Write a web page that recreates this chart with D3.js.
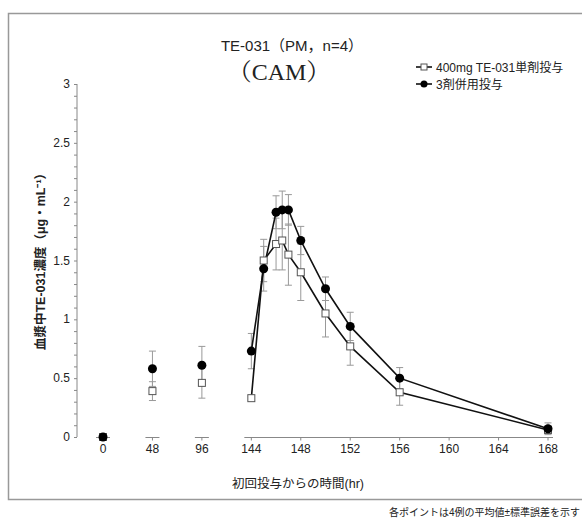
<!DOCTYPE html>
<html>
<head>
<meta charset="utf-8">
<script src="https://cdn.jsdelivr.net/npm/d3@7"></script>
<style>
  body { margin: 0; background: #fff; }
  svg { display: block; }
  text { font-family: "Liberation Sans Narrow", "Liberation Sans", "Noto Sans CJK JP", sans-serif; fill: #222; }
</style>
</head>
<body>
<div id="chart"></div>
<script>
// ─── Data ────────────────────────────────────────────────────
const times      = [0, 48, 96, 144, 145, 146, 146.5, 147, 148, 150, 152, 156, 168];
const singleMean = [0, 0.39, 0.46, 0.33, 1.50, 1.64, 1.67, 1.55, 1.40, 1.05, 0.77, 0.38, 0.06];
const singleSem  = [0, 0.08, 0.13, 0.02, 0.18, 0.22, 0.25, 0.26, 0.24, 0.20, 0.16, 0.11, 0.03];
const comboMean  = [0, 0.58, 0.61, 0.73, 1.43, 1.91, 1.93, 1.93, 1.67, 1.26, 0.94, 0.50, 0.07];
const comboSem   = [0, 0.15, 0.16, 0.15, 0.19, 0.14, 0.16, 0.13, 0.12, 0.10, 0.12, 0.09, 0.05];
const xTicks     = [0, 48, 96, 144, 148, 152, 156, 160, 164, 168];
const yTicks     = [0, 0.5, 1, 1.5, 2, 2.5, 3];
const seriesNames = ["400mg TE-031単剤投与", "3剤併用投与"];

// ─── Setup ───────────────────────────────────────────────────
const W = 582, H = 520;
const svg = d3.select("#chart").append("svg").attr("width", W).attr("height", H);

// outer frame
svg.append("rect")
    .attr("x", 8.5).attr("y", 13.5)
    .attr("width", 590).attr("height", 486)
    .attr("fill", "none").attr("stroke", "#999").attr("stroke-width", 1.5);

// broken time axis: 0/48/96 are spaced like 4-hr steps, then 144→168 continuous
const pos = t => t < 144 ? t / 48 : 3 + (t - 144) / 4;
const xs = d3.scaleLinear().domain([0, 9]).range([103, 548]);
const x = t => xs(pos(t));
const y = d3.scaleLinear().domain([0, 3]).range([437, 84]);

const axisColor = "#888";

// ─── Y axis ──────────────────────────────────────────────────
const yAxisX = 77;
const yg = svg.append("g").attr("transform", `translate(${yAxisX},0)`);
yg.call(d3.axisLeft(y).tickValues(d3.range(0, 3.0001, 0.1)).tickSize(3).tickFormat(""));
yg.call(g => g.select(".domain").remove());
yg.append("line").attr("y1", y(0)).attr("y2", y(3)).attr("stroke", axisColor);
yg.selectAll(".tick line").attr("stroke", axisColor);
yg.selectAll(".ylab")
    .data(yTicks)
    .join("text")
    .attr("class", "ylab")
    .attr("x", -7).attr("y", d => y(d) + 4)
    .attr("text-anchor", "end")
    .style("font-size", "12px")
    .text(d => d);

svg.append("text")
    .attr("transform", `translate(45,${(y(0) + y(3)) / 2 - 2}) rotate(-90)`)
    .attr("text-anchor", "middle")
    .style("font-size", "12.5px")
    .style("font-weight", "bold")
    .text("血漿中TE-031濃度（μg・mL⁻¹）");

// ─── X axis ──────────────────────────────────────────────────
const axisY = 437.5;
const xg = svg.append("g");
const segs = [[x(0) - 7, x(0) + 7], [x(48) - 7, x(48) + 7], [x(96) - 7, x(96) + 7], [x(144) - 7, x(168) + 5]];
xg.selectAll("line.seg").data(segs).join("line")
    .attr("class", "seg")
    .attr("x1", d => d[0]).attr("x2", d => d[1])
    .attr("y1", axisY).attr("y2", axisY)
    .attr("stroke", axisColor);
xg.selectAll("line.tk").data(xTicks).join("line")
    .attr("class", "tk")
    .attr("x1", d => x(d)).attr("x2", d => x(d))
    .attr("y1", axisY).attr("y2", axisY + 3)
    .attr("stroke", axisColor);
xg.selectAll("text").data(xTicks).join("text")
    .attr("x", d => x(d)).attr("y", 453)
    .attr("text-anchor", "middle")
    .style("font-size", "12px")
    .text(d => d);

svg.append("text")
    .attr("x", 298).attr("y", 488)
    .attr("text-anchor", "middle")
    .style("font-size", "12.5px")
    .text("初回投与からの時間(hr)");

// ─── Titles ──────────────────────────────────────────────────
svg.append("text")
    .attr("x", 292).attr("y", 51)
    .attr("text-anchor", "middle")
    .style("font-size", "15px")
    .text("TE-031（PM，n=4）");
svg.append("text")
    .attr("x", 279).attr("y", 80)
    .attr("text-anchor", "middle")
    .style("font-family", "'Liberation Serif', 'Noto Serif CJK JP', serif")
    .style("font-size", "24px")
    .text("（CAM）");

// ─── Series ──────────────────────────────────────────────────
const series = [
    { name: seriesNames[0], mean: singleMean, sem: singleSem, shape: "square" },
    { name: seriesNames[1], mean: comboMean,  sem: comboSem,  shape: "circle" }
];
const pts = s => times.map((t, i) => ({ t, v: s.mean[i], e: s.sem[i] }));

// error bars
series.forEach(s => {
    const eg = svg.append("g").attr("stroke", "#999").attr("stroke-width", 1);
    pts(s).filter(d => d.e > 0).forEach(d => {
        const cx = x(d.t);
        eg.append("line").attr("x1", cx).attr("x2", cx).attr("y1", y(d.v - d.e)).attr("y2", y(d.v + d.e));
        eg.append("line").attr("x1", cx - 3.5).attr("x2", cx + 3.5).attr("y1", y(d.v - d.e)).attr("y2", y(d.v - d.e));
        eg.append("line").attr("x1", cx - 3.5).attr("x2", cx + 3.5).attr("y1", y(d.v + d.e)).attr("y2", y(d.v + d.e));
    });
});

// lines (only the continuous 144–168 part)
const line = d3.line().x(d => x(d.t)).y(d => y(d.v));
series.forEach(s => {
    svg.append("path")
        .datum(pts(s).filter(d => d.t >= 144))
        .attr("d", line)
        .attr("fill", "none")
        .attr("stroke", "#111")
        .attr("stroke-width", 1.6);
});

// markers
svg.selectAll("rect.sq").data(pts(series[0])).join("rect")
    .attr("class", "sq")
    .attr("x", d => x(d.t) - 3.5).attr("y", d => y(d.v) - 3.5)
    .attr("width", 7).attr("height", 7)
    .attr("fill", "#fff").attr("stroke", "#555");
svg.selectAll("circle.ci").data(pts(series[1])).join("circle")
    .attr("class", "ci")
    .attr("cx", d => x(d.t)).attr("cy", d => y(d.v))
    .attr("r", 4.5)
    .attr("fill", "#000");

// ─── Legend ──────────────────────────────────────────────────
const lg = svg.append("g").attr("transform", "translate(416,0)");
[67, 84].forEach((ly, i) => {
    lg.append("line").attr("x1", 0).attr("x2", 16).attr("y1", ly).attr("y2", ly)
        .attr("stroke", "#111").attr("stroke-width", 1.6);
    if (i === 0) {
        lg.append("rect").attr("x", 5).attr("y", ly - 3).attr("width", 6).attr("height", 6)
            .attr("fill", "#fff").attr("stroke", "#555");
    } else {
        lg.append("circle").attr("cx", 8).attr("cy", ly).attr("r", 3.5).attr("fill", "#000");
    }
    lg.append("text").attr("x", 20).attr("y", ly + 4.5)
        .style("font-size", "12px")
        .text(seriesNames[i]);
});

// ─── Footnote ────────────────────────────────────────────────
svg.append("text")
    .attr("x", 580).attr("y", 516)
    .attr("text-anchor", "end")
    .style("font-size", "10px")
    .text("各ポイントは4例の平均値±標準誤差を示す");
</script>
</body>
</html>
